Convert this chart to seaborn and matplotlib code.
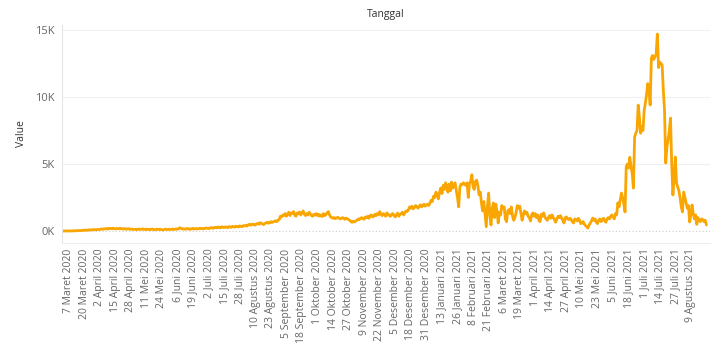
import matplotlib
matplotlib.use("Agg")
from matplotlib import pyplot as plt
from matplotlib.ticker import FuncFormatter
import seaborn as sns
import pandas as pd

# daily values (2 Mar 2020 .. 22 Aug 2021)
mar20 = [0, 0, 0, 2, 1, 3, 0, 5, 2, 8, 14, 20, 26, 30, 38, 27, 45, 55, 48, 60,
         70, 52, 85, 90, 72, 95, 110, 88, 102, 96]
apr20 = [120, 105, 140, 150, 130, 170, 160, 185, 140, 200, 190, 165, 210, 175, 150,
         195, 180, 160, 205, 170, 150, 185, 140, 160, 130, 175, 150, 120, 145, 130]
may20 = [115, 140, 100, 125, 150, 110, 130, 160, 120, 105, 140, 115, 135, 100, 125, 150,
         110, 90, 120, 140, 105, 130, 115, 95, 80, 110, 140, 120, 100, 135, 115]
jun20 = [120, 150, 110, 135, 160, 125, 180, 240, 200, 150, 170, 130, 155, 190, 145,
         165, 120, 175, 200, 140, 160, 185, 150, 175, 210, 170, 190, 155, 200, 220]
jul20 = [210, 180, 240, 220, 260, 200, 250, 280, 230, 300, 270, 240, 320, 280, 260, 310,
         290, 250, 330, 300, 270, 350, 310, 290, 360, 330, 300, 380, 350, 320, 400]
aug20 = [380, 420, 360, 450, 500, 430, 480, 520, 470, 440, 540, 560, 500, 620, 580, 530,
         480, 560, 600, 650, 580, 620, 700, 640, 680, 720, 760, 700, 800, 850, 1100]
sep20 = [1050, 1200, 1150, 1300, 1100, 1250, 1400, 1150, 1350, 1300, 1450, 1200, 1100, 1350, 1280,
         1420, 1200, 1350, 1500, 1250, 1150, 1300, 1200, 1400, 1280, 1150, 1100, 1250, 1180, 1300]
oct20 = [1150, 1250, 1100, 1200, 1080, 1300, 1150, 1220, 1350, 1450, 1200, 1050, 1000, 950, 1000, 920,
         980, 1020, 960, 900, 950, 1000, 930, 880, 960, 900, 850, 800, 700, 650, 720]
nov20 = [680, 750, 800, 900, 850, 950, 1000, 920, 880, 1050, 1000, 1100, 950, 1150, 1200,
         1050, 1100, 1250, 1150, 1300, 1200, 1450, 1250, 1150, 1300, 1200, 1100, 1350, 1250, 1150]
dec20 = [1100, 1250, 1300, 1150, 1050, 1200, 1340, 1100, 1250, 1300, 1400, 1200, 1350, 1500, 1450, 1600,
         1800, 1700, 1850, 1650, 1750, 1900, 1800, 1700, 1850, 1950, 1800, 1900, 2000, 1850, 1950]
jan21 = [2000, 1900, 2100, 2300, 2200, 2600, 2500, 2900, 2700, 2400, 2900, 3200, 2800, 3400, 3100, 3600,
         3300, 2900, 3500, 3000, 3650, 3200, 3400, 3600, 3000, 2500, 1800, 3300, 3500, 3450, 3600]
feb21 = [3500, 3400, 3600, 2500, 3550, 3700, 4200, 3300, 3100, 3700, 3800, 3400, 2700, 2900,
         2100, 1500, 2200, 1300, 320, 1800, 2830, 1200, 450, 1700, 2090, 1000, 2000, 1500]
mar21 = [600, 1400, 1200, 1900, 1700, 1800, 900, 700, 1500, 1600, 1300, 1800, 1100, 800, 1000, 1400,
         1900, 1700, 1850, 1300, 800, 1200, 1500, 1300, 1400, 1100, 1000, 750, 1200, 1350, 1100]
apr21 = [1300, 1000, 1200, 800, 700, 1250, 1100, 1350, 1050, 900, 800, 1000, 1150, 950, 1200,
         1000, 850, 650, 900, 1100, 1000, 1150, 950, 800, 600, 1000, 1050, 900, 850, 950]
may21 = [850, 700, 600, 900, 850, 750, 950, 800, 550, 600, 700, 500, 400, 300, 220, 450,
         600, 750, 970, 800, 900, 650, 550, 800, 900, 700, 850, 950, 750, 650, 900]
jun21 = [1000, 900, 1100, 1200, 1050, 900, 1300, 1200, 2100, 1800, 2300, 2830, 2500, 2000, 1420,
         4800, 5000, 4700, 5500, 4800, 4300, 3200, 7000, 7300, 7500, 9400, 8500, 7300, 7800, 7500]
jul21 = [9000, 9550, 10200, 11000, 10500, 9400, 12900, 13100, 12800, 13000, 13200, 14700, 12200, 12600, 12500, 12400,
         10500, 9000, 5070, 6270, 6800, 7500, 8430, 5000, 2690, 4000, 5520, 3580, 3300, 3000, 2500]
aug21 = [1800, 1420, 2910, 2500, 2100, 1700, 1900, 670, 1200, 1940, 1300, 900, 1200, 500, 1000,
         800, 700, 900, 850, 700, 800, 450]

start_date = "2020-03-02"
month_names = ["Januari", "Februari", "Maret", "April", "Mei", "Juni", "Juli",
               "Agustus", "September", "Oktober", "November", "Desember"]

values = (mar20 + apr20 + may20 + jun20 + jul20 + aug20 + sep20 + oct20 + nov20 + dec20
          + jan21 + feb21 + mar21 + apr21 + may21 + jun21 + jul21 + aug21)
df = pd.DataFrame({"Tanggal": pd.date_range(start_date, periods=len(values), freq="D"),
                   "Value": values})

# one label every 13 days, like the source
tick_dates = pd.date_range("2020-03-07", "2021-08-09", freq="13D")
tick_labels = [f"{d.day} {month_names[d.month - 1]} {d.year}" for d in tick_dates]

sns.set_theme(style="white")
plt.rcParams['font.family'] = ['Open Sans', 'DejaVu Sans']

fig = plt.figure(figsize=(7.15, 3.54), dpi=100)
ax = fig.add_axes([62 / 715, 1 - 243 / 354, 648 / 715, 218 / 354])

sns.lineplot(data=df, x="Tanggal", y="Value", color="#F9A602", linewidth=2.0, ax=ax)

t0 = pd.Timestamp(start_date)
ax.set_xlim(t0 - pd.Timedelta(days=0.5), t0 + pd.Timedelta(days=541))
ax.set_ylim(-895, 15373)

ax.set_yticks([0, 5000, 10000, 15000])
ax.yaxis.set_major_formatter(FuncFormatter(lambda v, p: f"{int(round(v / 1000))}K"))
ax.set_xticks(tick_dates)
ax.set_xticklabels(tick_labels, rotation=90)

ax.tick_params(axis='both', length=0, colors="#666666", labelsize=7.5)
ax.tick_params(axis='x', pad=4)
ax.tick_params(axis='y', labelsize=8, pad=5)

for v in [5000, 10000, 15000]:
    ax.axhline(v, color="#f0f0f0", linewidth=0.8, zorder=0)
ax.axhline(0, color="#cccccc", linewidth=0.8, linestyle=(0, (1, 2)), zorder=0)

for s in ["top", "right"]:
    ax.spines[s].set_visible(False)
ax.spines["left"].set_color("#e6e6e6")
ax.spines["bottom"].set_color("#eeeeee")
ax.spines["left"].set_linewidth(0.8)
ax.spines["bottom"].set_linewidth(0.8)

ax.set_xlabel("")
ax.set_ylabel("Value", fontsize=7.5, color="#333333", labelpad=6)
ax.set_title("Tanggal", fontsize=7.5, color="#333333", pad=6)

fig.savefig("out.png", dpi=100)
